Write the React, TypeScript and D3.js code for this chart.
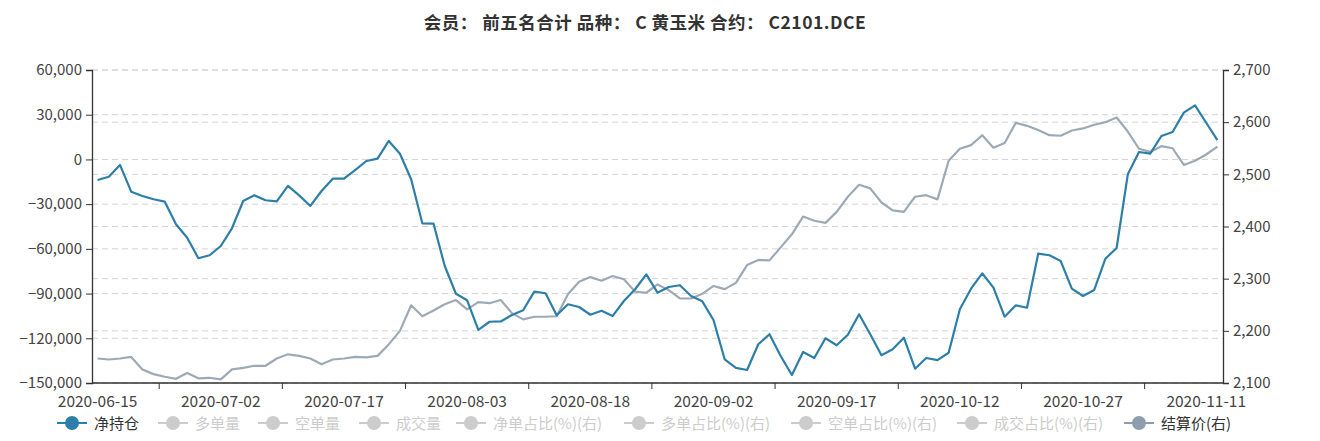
import React, { useEffect, useRef } from "react";
import { axisLeft, axisRight, scaleBand, scaleLinear, select, line, format } from "d3";

const TITLE = "会员： 前五名合计 品种： C 黄玉米 合约： C2101.DCE";

const dates = [
  "2020-06-15", "2020-06-16", "2020-06-17", "2020-06-18", "2020-06-19", "2020-06-22", "2020-06-23", "2020-06-24", "2020-06-29", "2020-06-30",
  "2020-07-01", "2020-07-02", "2020-07-03", "2020-07-06", "2020-07-07", "2020-07-08", "2020-07-09", "2020-07-10", "2020-07-13", "2020-07-14",
  "2020-07-15", "2020-07-16", "2020-07-17", "2020-07-20", "2020-07-21", "2020-07-22", "2020-07-23", "2020-07-24", "2020-07-27", "2020-07-28",
  "2020-07-29", "2020-07-30", "2020-07-31", "2020-08-03", "2020-08-04", "2020-08-05", "2020-08-06", "2020-08-07", "2020-08-10", "2020-08-11",
  "2020-08-12", "2020-08-13", "2020-08-14", "2020-08-17", "2020-08-18", "2020-08-19", "2020-08-20", "2020-08-21", "2020-08-24", "2020-08-25",
  "2020-08-26", "2020-08-27", "2020-08-28", "2020-08-31", "2020-09-01", "2020-09-02", "2020-09-03", "2020-09-04", "2020-09-07", "2020-09-08",
  "2020-09-09", "2020-09-10", "2020-09-11", "2020-09-14", "2020-09-15", "2020-09-16", "2020-09-17", "2020-09-18", "2020-09-21", "2020-09-22",
  "2020-09-23", "2020-09-24", "2020-09-25", "2020-09-28", "2020-09-29", "2020-09-30", "2020-10-09", "2020-10-12", "2020-10-13", "2020-10-14",
  "2020-10-15", "2020-10-16", "2020-10-19", "2020-10-20", "2020-10-21", "2020-10-22", "2020-10-23", "2020-10-26", "2020-10-27", "2020-10-28",
  "2020-10-29", "2020-10-30", "2020-11-02", "2020-11-03", "2020-11-04", "2020-11-05", "2020-11-06", "2020-11-09", "2020-11-10", "2020-11-11",
  "2020-11-12",
];

// 净持仓 (left axis)
const netPosition = [
  -13800, -11600, -3700, -21650, -24500, -26750, -28350, -43500, -52500, -66300,
  -64300, -58100, -46200, -27900, -24100, -27400, -28100, -17800, -24100, -31200,
  -21200, -12900, -12900, -7100, -1050, 500, 12400, 3850, -13300, -42850,
  -43100, -71500, -90100, -94500, -114400, -108900, -108700, -104400, -101200, -88700,
  -89800, -104600, -97200, -99000, -104200, -101500, -105000, -95000, -87100, -77100,
  -89400, -85600, -84400, -91600, -95200, -107700, -134100, -139900, -141300, -124000,
  -117300, -131900, -144600, -129200, -133200, -120000, -124700, -117600, -103900, -117300,
  -131400, -127400, -119600, -140400, -133200, -134600, -129700, -100500, -86700, -76400,
  -86000, -105500, -97900, -99500, -63200, -64300, -68100, -86700, -91600, -87600,
  -66600, -59400, -10000, 5000, 3850, 15700, 18400, 31400, 36300, 24600,
  13000,
];

// 结算价 (right axis)
const settlePrice = [
  2147, 2145, 2147, 2150, 2126, 2117, 2112, 2108, 2119, 2109,
  2110, 2107, 2126, 2129, 2133, 2133, 2147, 2155, 2152, 2147,
  2136, 2145, 2147, 2150, 2149, 2152, 2174, 2200, 2249, 2228,
  2239, 2251, 2259, 2241, 2255, 2253, 2259, 2234, 2222, 2227,
  2227, 2228, 2270, 2294, 2303, 2296, 2305, 2299, 2275, 2273,
  2289, 2278, 2262, 2262, 2271, 2286, 2280, 2292, 2326, 2336,
  2335, 2360, 2385, 2419, 2411, 2407, 2428, 2457, 2480, 2473,
  2446, 2431, 2428, 2457, 2460, 2452, 2526, 2549, 2556, 2575,
  2551, 2560, 2599, 2593, 2585, 2575, 2574, 2584, 2588, 2595,
  2600, 2609, 2582, 2549, 2543, 2554, 2550, 2518, 2526, 2538,
  2553,
];

const leftTicks = [-150000, -120000, -90000, -60000, -30000, 0, 30000, 60000];
const rightTicks = [2100, 2200, 2300, 2400, 2500, 2600, 2700];

const legendNames = [
  "净持仓", "多单量", "空单量", "成交量", "净单占比(%)(右)",
  "多单占比(%)(右)", "空单占比(%)(右)", "成交占比(%)(右)", "结算价(右)",
];
const legendActive = [true, false, false, false, false, false, false, false, true];

const BLUE = "#2d7fa9";
const GREY = "#9daab6";
const FONT = "'Microsoft YaHei', 'Noto Sans CJK SC', sans-serif";

// legend item left edges
const legendX = [57, 158, 258, 359, 456, 624, 791, 957, 1124];

function YAxis({ scale, side, ticks, transform }) {
  const ref = useRef(null);
  useEffect(() => {
    if (!ref.current) return;
    const ax = (side === "left" ? axisLeft(scale) : axisRight(scale))
      .tickValues(ticks)
      .tickFormat(format(","))
      .tickSize(6)
      .tickPadding(4);
    const g = select(ref.current).call(ax);
    g.select(".domain").attr("stroke", "#333").attr("stroke-width", 1.3);
    g.selectAll(".tick line").attr("stroke", "#333");
    g.selectAll(".tick text")
      .attr("fill", "#444")
      .style("font-size", "15px")
      .style("font-family", FONT);
  }, [scale]);
  return <g ref={ref} transform={transform} />;
}

export default function App() {
  const width = 1320;
  const height = 441;
  const margin = { top: 70, right: 97, bottom: 58, left: 92 };
  const innerW = width - margin.left - margin.right;
  const innerH = height - margin.top - margin.bottom;

  const x = scaleBand().domain(dates).range([0, innerW]).paddingInner(0).paddingOuter(0);
  const yLeft = scaleLinear().domain([-150000, 60000]).range([innerH, 0]);
  const yRight = scaleLinear().domain([2100, 2700]).range([innerH, 0]);
  const bw = x.bandwidth();
  const cx = (i) => x(dates[i]) + bw / 2;

  const netLine = line().x((d, i) => cx(i)).y((d) => yLeft(d));
  const priceLine = line().x((d, i) => cx(i)).y((d) => yRight(d));

  const labelIdx = dates.map((d, i) => i).filter((i) => i % 11 === 0);
  const tickIdx = labelIdx.filter((i) => i + 11 < dates.length);

  return (
    <svg
      width={width}
      height={height}
      style={{ position: "absolute", left: 0, top: 0, background: "#fff" }}
      fontFamily={FONT}
    >
      <text x={645} y={29} textAnchor="middle" fontSize={17.5} letterSpacing={0.5} fontWeight="bold" fill="#333">
        {TITLE}
      </text>
      <g transform={`translate(${margin.left}, ${margin.top})`}>
        {leftTicks.map((t) => (
          <line key={`gl-${t}`} x1={0} x2={innerW} y1={yLeft(t)} y2={yLeft(t)}
            stroke="#d3d3d3" strokeDasharray="6,4" />
        ))}
        {rightTicks.map((t) => (
          <line key={`gr-${t}`} x1={0} x2={innerW} y1={yRight(t)} y2={yRight(t)}
            stroke="#d3d3d3" strokeDasharray="6,4" />
        ))}
        <path d={priceLine(settlePrice)} fill="none" stroke={GREY} strokeWidth={2.2} strokeLinejoin="round" />
        <path d={netLine(netPosition)} fill="none" stroke={BLUE} strokeWidth={2.2} strokeLinejoin="round" />

        <YAxis scale={yLeft} side="left" ticks={leftTicks} />
        <YAxis scale={yRight} side="right" ticks={rightTicks} transform={`translate(${innerW}, 0)`} />

        <g transform={`translate(0, ${innerH})`}>
          <line x1={0} x2={innerW} y1={0} y2={0} stroke="#333" strokeWidth={1.3} />
          {tickIdx.map((i) => {
            const tx = (cx(i) + cx(i + 11)) / 2;
            return <line key={`xt-${i}`} x1={tx} x2={tx} y1={0} y2={6} stroke="#333" />;
          })}
          {labelIdx.map((i) => (
            <text key={`xl-${i}`} x={cx(i)} y={24} textAnchor="middle" fontSize={15.5} fill="#444">
              {dates[i]}
            </text>
          ))}
        </g>
      </g>

      <g transform="translate(0, 423)">
        {legendNames.map((name, i) => {
          const lx = legendX[i];
          const col = legendActive[i] ? (i === 0 ? BLUE : "#8e9cae") : "#ccc";
          return (
            <g key={name} transform={`translate(${lx}, 0)`}>
              <line x1={0} x2={30} y1={0} y2={0} stroke={col} strokeWidth={2} />
              <circle cx={15} cy={0} r={7} fill={col} />
              <text x={37} y={5.5} fontSize={15} fill={legendActive[i] ? "#333" : "#ccc"}>
                {name}
              </text>
            </g>
          );
        })}
      </g>
    </svg>
  );
}
